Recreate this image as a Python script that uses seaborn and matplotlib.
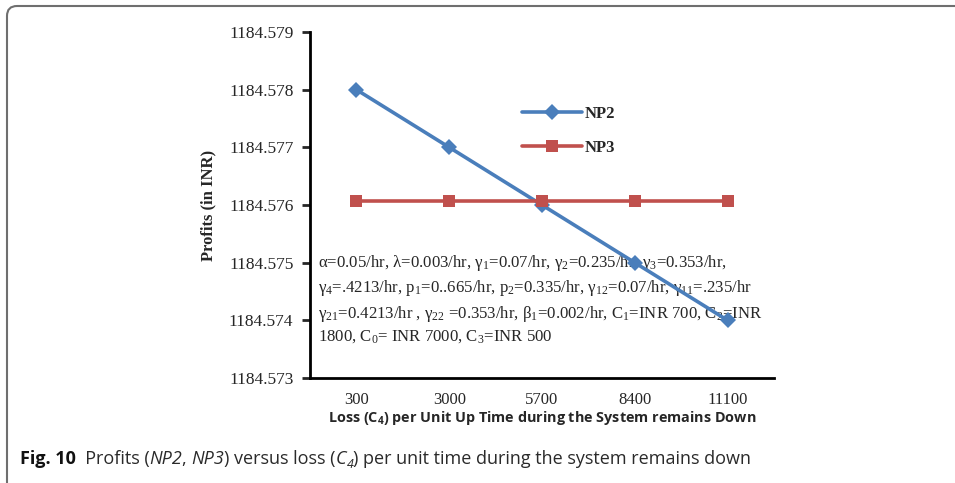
import pandas as pd
import seaborn as sns
import matplotlib.pyplot as plt
from matplotlib.ticker import FormatStrFormatter
from matplotlib.patches import FancyBboxPatch
from matplotlib.transforms import IdentityTransform

# values
loss_c4 = ["300", "3000", "5700", "8400", "11100"]
np2 = [1184.578, 1184.577, 1184.576, 1184.575, 1184.574]
np3 = [1184.57607, 1184.57607, 1184.57607, 1184.57607, 1184.57607]
y_ticks = [1184.573, 1184.574, 1184.575, 1184.576, 1184.577, 1184.578, 1184.579]

params_text = (
    "α=0.05/hr, λ=0.003/hr, γ$_1$=0.07/hr, γ$_2$=0.235/hr, γ$_3$=0.353/hr,\n"
    "γ$_4$=.4213/hr, p$_1$=0..665/hr, p$_2$=0.335/hr, γ$_{12}$=0.07/hr, γ$_{11}$=.235/hr\n"
    "γ$_{21}$=0.4213/hr , γ$_{22}$ =0.353/hr, β$_1$=0.002/hr, C$_1$=INR 700, C$_2$=INR\n"
    "1800, C$_0$= INR 7000, C$_3$=INR 500"
)

# caption pieces: (text, style, weight, subscript)
caption = [
    ("Fig. 10", "normal", "bold", False),
    ("  Profits (", "normal", "normal", False),
    ("NP2", "italic", "normal", False),
    (", ", "normal", "normal", False),
    ("NP3", "italic", "normal", False),
    (") versus loss (", "normal", "normal", False),
    ("C", "italic", "normal", False),
    ("4", "italic", "normal", True),
    (") per unit time during the system remains down", "normal", "normal", False),
]

df = pd.DataFrame({
    "loss": loss_c4 * 2,
    "profit": np2 + np3,
    "series": ["NP2"] * len(np2) + ["NP3"] * len(np3),
})

sns.set_style("white")
plt.rcParams["font.family"] = ["Liberation Serif", "DejaVu Sans"]
plt.rcParams["mathtext.fontset"] = "custom"
plt.rcParams["mathtext.rm"] = "Liberation Serif"
plt.rcParams["mathtext.it"] = "Liberation Serif:italic"
plt.rcParams["mathtext.sf"] = "Open Sans:bold"

W, H = 955, 483
fig = plt.figure(figsize=(W / 100, H / 100), dpi=100)
ax = fig.add_axes([310 / W, 1 - 378 / H, 464 / W, 346 / H])

sns.lineplot(data=df, x="loss", y="profit", hue="series", style="series",
             markers={"NP2": "D", "NP3": "s"}, dashes=False,
             palette={"NP2": "#4a7ebb", "NP3": "#c0504d"},
             linewidth=2.6, markersize=8, markeredgewidth=0, ax=ax, zorder=3)

ax.set_xlim(-0.5, len(loss_c4) - 0.5)
ax.set_ylim(y_ticks[0], y_ticks[-1])
ax.set_yticks(y_ticks)
ax.yaxis.set_major_formatter(FormatStrFormatter("%.3f"))
ax.tick_params(axis="y", direction="out", length=6, width=2, labelsize=12.5, pad=6, left=True)
ax.tick_params(axis="x", length=0, labelsize=12, pad=10)

for side in ["top", "right"]:
    ax.spines[side].set_visible(False)
for side in ["left", "bottom"]:
    ax.spines[side].set_linewidth(2)
    ax.spines[side].set_color("black")

ax.set_ylabel("Profits (in INR)", fontsize=12, fontweight="bold", labelpad=9)
ax.set_xlabel(r"Loss (C$_\mathsf{4}$) per Unit Up Time during the System remains Down",
              fontsize=10.4, fontweight="bold", family="Open Sans", labelpad=1)

leg = ax.legend(loc="upper left", bbox_to_anchor=(0.425, 0.83), frameon=False,
                handlelength=3.6, handletextpad=0.15, labelspacing=1.1,
                prop={"weight": "bold", "size": 12})
for t in leg.get_texts():
    t.set_family("Liberation Serif")

ax.text(0.018, 0.36, params_text, transform=ax.transAxes, fontsize=12.1,
        va="top", ha="left", linespacing=1.36, zorder=1)

# caption, placed piece by piece
renderer = fig.canvas.get_renderer()
x = 20
base = H - 464
for s, style, weight, sub in caption:
    size = 9 if sub else 13
    yy = base - 4 if sub else base
    t = fig.text(x / W, yy / H, s, family="Open Sans", style=style, weight=weight,
                 fontsize=size, va="baseline", color="#111111" if weight == "bold" else "#2a2a2a")
    x = t.get_window_extent(renderer).x1

# rounded frame around figure panel
frame = FancyBboxPatch((7, -40), 1100, 477 + 40, boxstyle="round,pad=0,rounding_size=10",
                       transform=IdentityTransform(), fill=False, edgecolor="#6f6f6f",
                       linewidth=1.5, clip_on=False)
fig.patches.append(frame)

fig.savefig("out.png", dpi=100)
